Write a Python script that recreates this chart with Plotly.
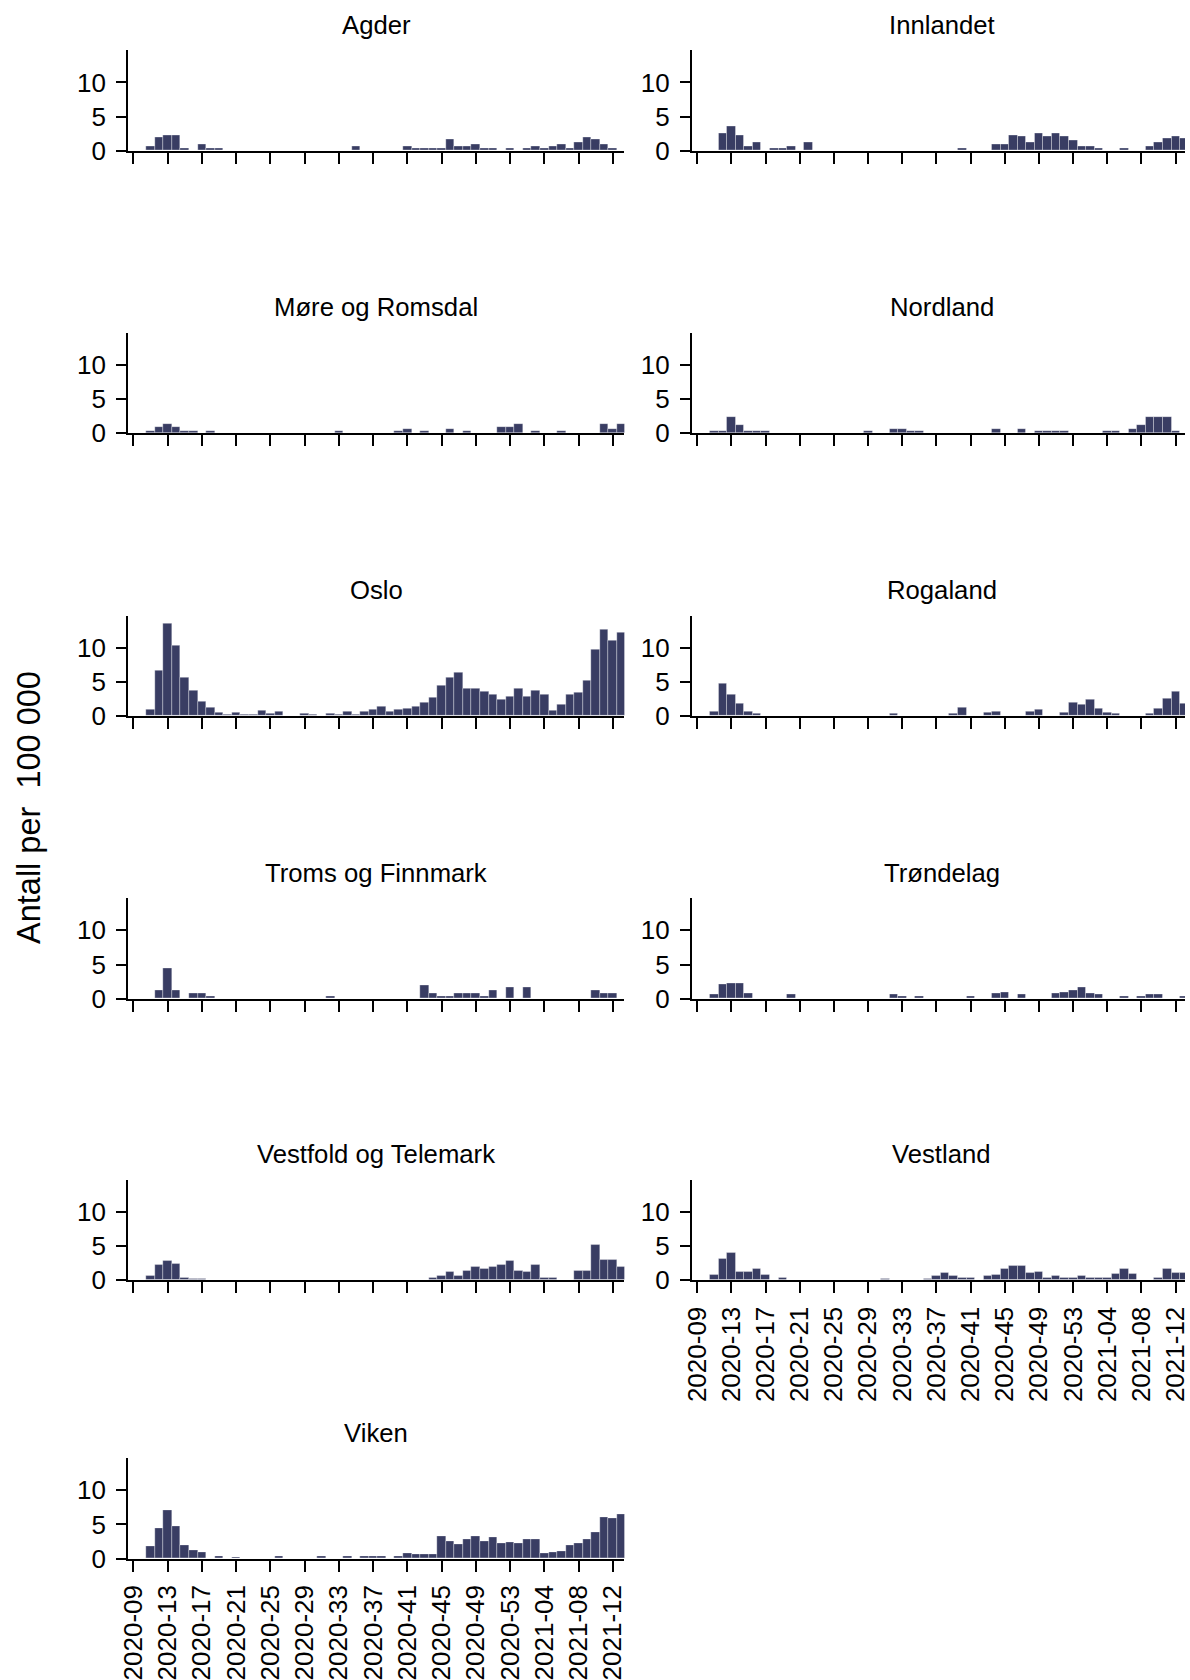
import plotly.graph_objects as go

weeks = ["2020-09","2020-10","2020-11","2020-12","2020-13","2020-14","2020-15","2020-16","2020-17","2020-18",
         "2020-19","2020-20","2020-21","2020-22","2020-23","2020-24","2020-25","2020-26","2020-27","2020-28",
         "2020-29","2020-30","2020-31","2020-32","2020-33","2020-34","2020-35","2020-36","2020-37","2020-38",
         "2020-39","2020-40","2020-41","2020-42","2020-43","2020-44","2020-45","2020-46","2020-47","2020-48",
         "2020-49","2020-50","2020-51","2020-52","2020-53","2021-01","2021-02","2021-03","2021-04","2021-05",
         "2021-06","2021-07","2021-08","2021-09","2021-10","2021-11","2021-12","2021-13"]

tick_labels = ["2020-09","2020-13","2020-17","2020-21","2020-25","2020-29","2020-33","2020-37",
               "2020-41","2020-45","2020-49","2020-53","2021-04","2021-08","2021-12"]

agder = [0,0,0.6,1.9,2.2,2.2,0.3,0,0.9,0.3, 0.3,0,0,0,0,0,0,0,0,0, 0,0,0,0,0,0,0.6,0,0,0,
         0,0,0.6,0.3,0.3,0.3,0.3,1.6,0.6,0.6, 0.9,0.3,0.3,0,0.3,0,0.3,0.6,0.3,0.6, 0.9,0.3,1.3,1.9,1.6,0.9,0.3,0]
innlandet = [0,0,0.1,2.6,3.6,2.3,0.7,1.2,0.1,0.4, 0.4,0.7,0,1.2,0,0.1,0,0.1,0,0.1, 0,0,0,0,0,0,0,0,0.1,0,
             0,0.4,0,0,0.1,1.0,1.0,2.3,2.1,1.3, 2.6,2.1,2.6,2.1,1.5,0.7,0.7,0.4,0,0.1, 0.4,0.1,0.1,0.7,1.2,1.8,2.1,1.8]
more_romsdal = [0,0,0.3,1.0,1.4,1.0,0.3,0.3,0,0.3, 0,0,0,0,0,0,0,0,0,0, 0,0,0,0,0.3,0,0,0,0,0,
                0,0.3,0.7,0,0.3,0,0,0.7,0,0.3, 0,0,0,1.0,1.0,1.4,0,0.3,0,0, 0.3,0,0,0,0,1.4,0.7,1.4]
nordland = [0,0,0.3,0.3,2.4,1.2,0.3,0.3,0.3,0, 0,0,0,0,0,0,0,0,0,0, 0.3,0,0,0.7,0.7,0.3,0.3,0,0,0,
            0,0,0,0,0,0.7,0,0,0.7,0, 0.3,0.3,0.3,0.3,0,0,0,0,0.3,0.3, 0,0.7,1.2,2.4,2.4,2.4,0.3,0]
oslo = [0,0,1.0,6.6,13.5,10.3,5.6,3.7,2.1,1.2, 0.5,0.2,0.5,0.2,0.2,0.8,0.4,0.7,0,0, 0.4,0.2,0.1,0.4,0.2,0.6,0.2,0.6,0.9,1.4,
        0.7,1.0,1.1,1.4,1.9,2.7,4.4,5.6,6.3,4.0, 4.0,3.6,3.2,2.4,2.9,4.0,2.8,3.7,3.1,0.8, 1.6,3.2,3.4,5.2,9.7,12.6,11.1,12.2]
rogaland = [0,0,0.7,4.8,3.2,1.8,0.7,0.3,0,0, 0,0,0,0,0,0,0,0,0,0, 0,0,0,0.3,0,0,0,0,0,0,
            0.3,1.2,0,0,0.5,0.7,0,0,0,0.7, 1.0,0,0,0.5,2.0,1.6,2.4,1.1,0.5,0.3, 0,0,0,0.3,1.1,2.6,3.6,1.8]
troms_finnmark = [0,0,0,1.2,4.5,1.2,0,0.8,0.8,0.3, 0,0,0,0,0,0,0,0,0,0, 0,0,0,0.3,0,0,0,0,0,0,
                  0,0,0,0,2.0,0.8,0.4,0.4,0.8,0.8, 0.8,0.4,1.2,0,1.6,0,1.6,0,0,0, 0,0,0,0,1.2,0.8,0.8,0]
trondelag = [0,0,0.6,2.1,2.3,2.3,0.8,0,0,0, 0,0.6,0,0,0,0,0,0,0,0, 0,0,0,0.6,0.3,0,0.3,0,0,0,
             0,0,0.3,0,0,0.8,1.0,0,0.6,0, 0,0,0.8,1.0,1.2,1.6,0.8,0.6,0,0, 0.3,0,0.3,0.6,0.6,0,0,0.3]
vestfold_telemark = [0,0,0.7,2.2,2.8,2.4,0.4,0.2,0.2,0, 0,0,0,0,0,0,0,0,0,0, 0,0,0,0,0,0,0.1,0,0,0,
                     0,0,0.1,0,0,0.3,0.7,1.2,0.7,1.4, 1.9,1.7,1.9,2.2,2.8,1.4,1.2,2.2,0.4,0.4, 0,0.1,1.4,1.4,5.2,3.0,3.0,1.9]
vestland = [0,0,0.8,3.1,4.0,1.3,1.2,1.6,0.8,0, 0.3,0,0,0,0,0,0,0,0,0, 0,0,0.2,0,0,0,0,0.2,0.6,1.1,
            0.6,0.3,0.4,0,0.6,0.8,1.6,2.1,2.1,1.1, 1.2,0.4,0.6,0.3,0.4,0.6,0.3,0.3,0.4,0.9, 1.6,0.9,0,0,0.4,1.7,1.1,1.1]
viken = [0,0,1.8,4.5,7.1,4.8,2.0,1.2,0.9,0.1, 0.3,0.1,0.2,0.1,0.1,0.1,0.1,0.4,0.1,0.1, 0.1,0.1,0.3,0.1,0.1,0.3,0.1,0.3,0.4,0.4,
         0.1,0.3,0.8,0.6,0.7,0.7,3.3,2.5,2.1,2.8, 3.3,2.6,3.1,2.3,2.4,2.3,2.8,2.9,0.8,0.9, 1.1,2.0,2.2,2.9,3.9,6.0,5.9,6.5]

region_names = ["Agder", "Innlandet", "Møre og Romsdal", "Nordland", "Oslo", "Rogaland",
                "Troms og Finnmark", "Trøndelag", "Vestfold og Telemark", "Vestland", "Viken"]
region_values = [agder, innlandet, more_romsdal, nordland, oslo, rogaland,
                 troms_finnmark, trondelag, vestfold_telemark, vestland, viken]
labelled = {"Vestland", "Viken"}

W, H = 1190, 1680
FONT = "Liberation Sans, Arial, sans-serif"
BAR = "#393d63"
col_x0 = [119.6, 690.5]
col_x1 = [119.6 + 502.6, 1190.0]
X_START = -0.63
x_end = [57.35, 57.1]
row_zero = [153.1, 440.2, 727.3, 1014.4, 1300.4, 1583.1]
panel_h = 102.0
title_off = 128.0
title_x = [371.0, 943.5]
YMAX = 14.7

fig = go.Figure()
layout = dict(width=W, height=H, margin=dict(l=0, r=0, t=0, b=0),
              paper_bgcolor="white", plot_bgcolor="white", showlegend=False,
              bargap=0, font=dict(family=FONT, size=26, color="black"))
annotations = []

for k, (name, vals) in enumerate(zip(region_names, region_values)):
    n = k + 1
    row, col = divmod(k, 2)
    x0, x1 = col_x0[col], col_x1[col]
    yb = row_zero[row]
    yt = yb - panel_h
    fig.add_trace(go.Bar(x=weeks, y=vals, xaxis=f"x{n}", yaxis=f"y{n}",
                         marker=dict(color=BAR, line=dict(color="rgba(255,255,255,0.55)", width=0.6)),
                         hovertemplate=name + " %{x}: %{y}<extra></extra>"))
    layout[f"xaxis{n}"] = dict(
        domain=[x0 / W, x1 / W], anchor=f"y{n}", type="category",
        categoryorder="array", categoryarray=weeks, range=[X_START, x_end[col]],
        tickmode="array", tickvals=tick_labels, ticktext=tick_labels,
        showticklabels=name in labelled, tickangle=-90, ticklabelstandoff=3,
        tickfont=dict(size=26, family=FONT, color="black"),
        showline=True, linecolor="black", linewidth=2,
        ticks="outside", ticklen=11, tickwidth=1.5, tickcolor="black",
        showgrid=False, zeroline=False, fixedrange=True)
    layout[f"yaxis{n}"] = dict(
        domain=[1 - yb / H, 1 - yt / H], anchor=f"x{n}", range=[0, YMAX],
        tickmode="array", tickvals=[0, 5, 10], ticktext=["0", "5", "10"],
        tickfont=dict(size=26, family=FONT, color="black"), ticklabelstandoff=5,
        showline=True, linecolor="black", linewidth=2,
        ticks="outside", ticklen=10, tickwidth=1.5, tickcolor="black",
        showgrid=False, zeroline=False, fixedrange=True)
    annotations.append(dict(text=name, x=title_x[col] / W,
                            y=1 - (yb - title_off) / H, xref="paper", yref="paper",
                            showarrow=False, xanchor="center", yanchor="middle",
                            font=dict(size=25.7, family=FONT, color="black")))

annotations.append(dict(text="Antall per  100 000", x=19 / W, y=1 - 819.9 / H,
                        xref="paper", yref="paper", showarrow=False, textangle=-90,
                        xanchor="center", yanchor="middle",
                        font=dict(size=32.5, family=FONT, color="black")))
layout["annotations"] = annotations
fig.update_layout(**layout)

fig.write_html("out.html", config={"displayModeBar": False},
               post_script="document.body.style.margin='0px';document.body.style.overflow='hidden';")
